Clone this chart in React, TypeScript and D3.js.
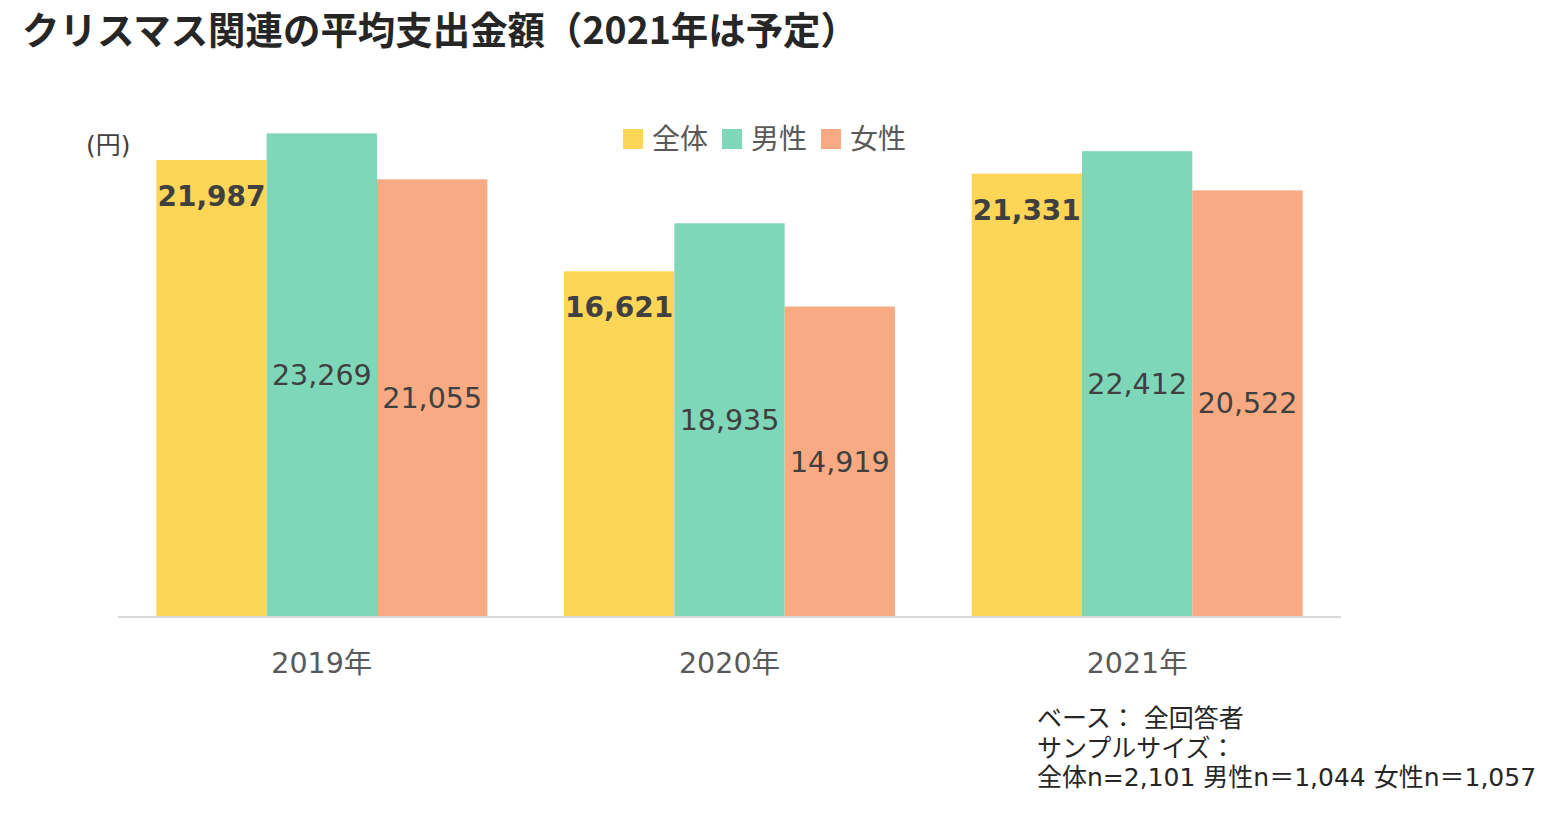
import React from "react";
import * as d3 from "d3";

// --- Data ---
const years = ["2019年", "2020年", "2021年"];
const seriesNames = ["全体", "男性", "女性"];
const totalValues = [21987, 16621, 21331];
const maleValues = [23269, 18935, 22412];
const femaleValues = [21055, 14919, 20522];
const seriesColors = ["#fdd658", "#7fd7b9", "#f8aa83"];
const noteLines = [
  "ベース： 全回答者",
  "サンプルサイズ：",
  "全体n=2,101 男性n＝1,044 女性n＝1,057",
];

const W = 1554;
const H = 813;
const FONT = "'DejaVu Sans', 'Noto Sans CJK JP', sans-serif";

const App: React.FC = () => {
  const seriesValues = [totalValues, maleValues, femaleValues];

  // scales
  const x = d3
    .scaleBand<string>()
    .domain(years)
    .range([118, 1341])
    .paddingInner(0.188)
    .paddingOuter(0.094);
  const xs = d3
    .scaleBand<string>()
    .domain(seriesNames)
    .range([0, x.bandwidth()]);
  const y = d3.scaleLinear().domain([0, 25000]).range([616, 97.5]);
  const fmt = d3.format(",");

  return (
    <svg
      width={W}
      height={H}
      style={{ position: "absolute", left: 0, top: 0, background: "#fff" }}
      fontFamily={FONT}
    >
      {/* Title */}
      <text
        x={22}
        y={44}
        fontSize={38}
        fontWeight="bold"
        fill="#262626"
        fontFamily="'Noto Sans CJK JP', sans-serif"
        textLength={836}
        lengthAdjust="spacingAndGlyphs"
      >
        クリスマス関連の平均支出金額（2021年は予定）
      </text>

      {/* unit */}
      <text x={86} y={154} fontSize={25} fill="#404040">
        (円)
      </text>

      {/* Legend */}
      {seriesNames.map((s, i) => {
        const lx = [623, 722, 821][i];
        return (
          <g key={s}>
            <rect x={lx} y={129} width={20} height={20} fill={seriesColors[i]} />
            <text x={lx + 29} y={149} fontSize={28} fill="#595959">
              {s}
            </text>
          </g>
        );
      })}

      {/* Bars */}
      {years.map((yr, yi) => (
        <g key={yr} transform={`translate(${x(yr)},0)`}>
          {seriesNames.map((s, si) => {
            const v = seriesValues[si][yi];
            const bx = xs(s)!;
            const bw = xs.bandwidth();
            return (
              <rect
                key={s}
                x={bx}
                y={y(v)}
                width={bw}
                height={y(0) - y(v)}
                fill={seriesColors[si]}
              />
            );
          })}
          {seriesNames.map((s, si) => {
            const v = seriesValues[si][yi];
            const cx = xs(s)! + xs.bandwidth() / 2;
            const cy = si === 0 ? y(v) + 36 : (y(v) + y(0)) / 2;
            return (
              <text
                key={s + "l"}
                x={cx}
                y={cy}
                dy="0.36em"
                textAnchor="middle"
                fontSize={si === 0 ? 28 : 28.5}
                fontWeight={si === 0 ? "bold" : "normal"}
                fill="#404040"
              >
                {fmt(v)}
              </text>
            );
          })}
        </g>
      ))}

      {/* Axis */}
      <line x1={118} x2={1341} y1={y(0) + 1} y2={y(0) + 1} stroke="#d9d9d9" strokeWidth={2} />
      {years.map((yr) => (
        <text
          key={yr}
          x={x(yr)! + x.bandwidth() / 2}
          y={663}
          dy="0.36em"
          textAnchor="middle"
          fontSize={28.5}
          fill="#595959"
        >
          {yr}
        </text>
      ))}

      {/* Notes */}
      {noteLines.map((t, i) => (
        <text key={i} x={1037} y={727 + i * 29.5} fontSize={25} fill="#262626">
          {t}
        </text>
      ))}
    </svg>
  );
};

export default App;
